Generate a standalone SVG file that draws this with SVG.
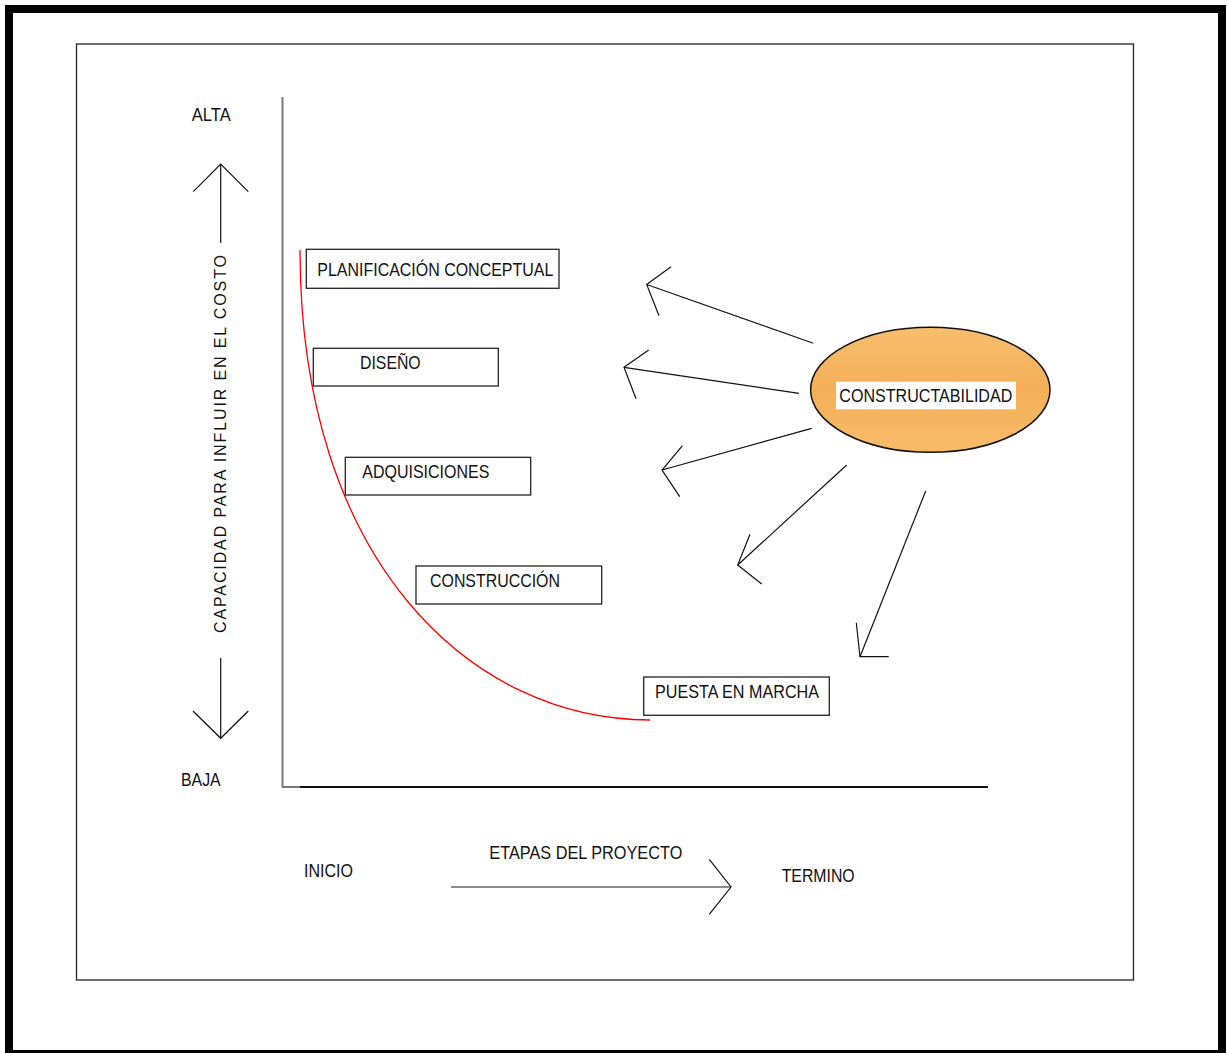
<svg xmlns="http://www.w3.org/2000/svg" width="1227" height="1053" viewBox="0 0 1227 1053">
<style>
text{font-family:"Liberation Sans",Arial,sans-serif;font-size:17.5px;fill:#111;}
.box{fill:#fff;stroke:#222;stroke-width:1.3;}
.ln{fill:none;stroke:#111;stroke-width:1.2;}
.gr{fill:none;stroke:#777;stroke-width:2;}
</style>
<defs>
<linearGradient id="og" x1="0" y1="0" x2="0" y2="1">
<stop offset="0" stop-color="#F7BE6E"/>
<stop offset="0.5" stop-color="#F4AF57"/>
<stop offset="1" stop-color="#F7BC69"/>
</linearGradient>
</defs>
<rect x="9" y="9" width="1213" height="1045" fill="#fff" stroke="#000" stroke-width="8"/>
<rect x="76.5" y="44" width="1057" height="936" fill="none" stroke="#222" stroke-width="1.3"/>
<g id="axes">
<line x1="282.5" y1="97" x2="282.5" y2="787" class="gr"/>
<line x1="282" y1="787" x2="300" y2="787" class="gr"/>
<line x1="300" y1="787" x2="988" y2="787" stroke="#111" stroke-width="2"/>
</g>
<g id="y-axis-label">
<text x="191.7" y="121" textLength="39" lengthAdjust="spacingAndGlyphs">ALTA</text>
<text x="181" y="785.7" textLength="39.7" lengthAdjust="spacingAndGlyphs">BAJA</text>
<text transform="translate(226,633) rotate(-90)" x="0" y="0" font-size="16" style="font-size:16px" textLength="378" lengthAdjust="spacing">CAPACIDAD PARA INFLUIR EN EL COSTO</text>
<polyline class="ln" points="193.3,191.7 220.7,164 248.3,191.7"/>
<line class="ln" x1="220.7" y1="164" x2="220.7" y2="243"/>
<polyline class="ln" points="193,711 220.7,738.3 248.3,711"/>
<line class="ln" x1="220.7" y1="658" x2="220.7" y2="738.3"/>
</g>
<g id="x-axis-label">
<text x="304" y="877" textLength="49" lengthAdjust="spacingAndGlyphs">INICIO</text>
<text x="489.3" y="859" textLength="193" lengthAdjust="spacingAndGlyphs">ETAPAS DEL PROYECTO</text>
<text x="781.7" y="882.3" textLength="73" lengthAdjust="spacingAndGlyphs">TERMINO</text>
<line x1="451" y1="887" x2="731" y2="887" stroke="#666" stroke-width="1.6"/>
<polyline class="ln" points="709.3,859.3 731,887 709.3,914.3"/>
</g>
<g id="curve">
<path d="M300,250 C300,560 470,720 650,720" fill="none" stroke="#ff0000" stroke-width="1.3"/>
</g>
<g id="planificacion">
<rect class="box" x="306.3" y="249.3" width="252.7" height="39"/>
<text x="317.3" y="276" textLength="236" lengthAdjust="spacingAndGlyphs">PLANIFICACIÓN CONCEPTUAL</text>
</g>
<g id="diseno">
<rect class="box" x="313.3" y="348.3" width="185" height="37.7"/>
<text x="360" y="369" textLength="60.7" lengthAdjust="spacingAndGlyphs">DISEÑO</text>
</g>
<g id="adquisiciones">
<rect class="box" x="345.3" y="457.3" width="185.4" height="37.7"/>
<text x="362.3" y="477.7" textLength="127" lengthAdjust="spacingAndGlyphs">ADQUISICIONES</text>
</g>
<g id="construccion">
<rect class="box" x="416" y="566" width="185.7" height="38"/>
<text x="430" y="586.7" textLength="130" lengthAdjust="spacingAndGlyphs">CONSTRUCCIÓN</text>
</g>
<g id="puesta">
<rect class="box" x="643.7" y="677" width="185.6" height="38.3"/>
<text x="655" y="698.3" textLength="164" lengthAdjust="spacingAndGlyphs">PUESTA EN MARCHA</text>
</g>
<g id="constructabilidad">
<ellipse cx="930.3" cy="389.8" rx="119.7" ry="62.5" fill="url(#og)" stroke="#111" stroke-width="1.5"/>
<rect x="836" y="381.7" width="180" height="27.6" fill="#fff"/>
<text x="839.3" y="401.7" textLength="173" lengthAdjust="spacingAndGlyphs">CONSTRUCTABILIDAD</text>
</g>
<g id="connectors" class="ln">
<line x1="813.3" y1="343.3" x2="646.7" y2="284.5"/>
<polyline points="671,266.7 646.7,284.5 659,315.7"/>
<line x1="799" y1="393.3" x2="624" y2="367.3"/>
<polyline points="648.7,350 624,367.3 636,398.7"/>
<line x1="811.7" y1="428.3" x2="662" y2="470"/>
<polyline points="682.3,445.8 662,470 679.7,496.7"/>
<line x1="846.7" y1="465" x2="737.7" y2="565"/>
<polyline points="750,534.3 737.7,565 761.7,584"/>
<line x1="925.7" y1="491" x2="860" y2="656.7"/>
<polyline points="856.3,622.7 860,656.7 888.7,656.7"/>
</g>
</svg>
